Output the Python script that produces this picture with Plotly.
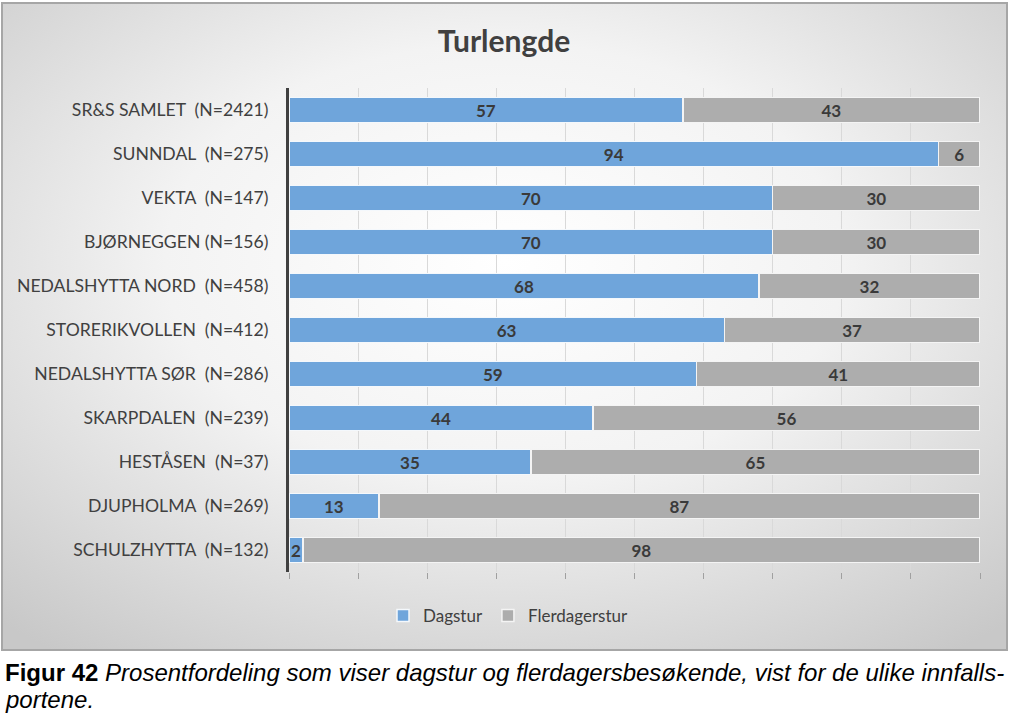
import base64
import plotly.graph_objects as go

categories = [
    "SR&S SAMLET  (N=2421)",
    "SUNNDAL  (N=275)",
    "VEKTA  (N=147)",
    "BJØRNEGGEN (N=156)",
    "NEDALSHYTTA NORD  (N=458)",
    "STORERIKVOLLEN  (N=412)",
    "NEDALSHYTTA SØR  (N=286)",
    "SKARPDALEN  (N=239)",
    "HESTÅSEN  (N=37)",
    "DJUPHOLMA  (N=269)",
    "SCHULZHYTTA  (N=132)",
]
dagstur = [57, 94, 70, 70, 68, 63, 59, 44, 35, 13, 2]
flerdagerstur = [43, 6, 30, 30, 32, 37, 41, 56, 65, 87, 98]
series_names = ["Dagstur", "Flerdagerstur"]

labels = [c.replace("  ", "\u00a0 ") for c in categories]

W, H = 1024, 716
L, R, T, B = 289, 980, 88, 572


def px_x(p):
    return (p - L) / (R - L)


def px_y(p):
    return (B - p) / (B - T)


svg = (
    '<svg xmlns="http://www.w3.org/2000/svg" width="1005" height="647" viewBox="0 0 1005 647" preserveAspectRatio="none">'
    '<defs><radialGradient id="g" cx="50%" cy="40%" r="75%">'
    '<stop offset="0" stop-color="#ffffff"/>'
    '<stop offset="0.45" stop-color="#f3f3f3"/>'
    '<stop offset="1" stop-color="#c8c8c8"/>'
    '</radialGradient></defs>'
    '<rect width="1005" height="647" fill="url(#g)"/></svg>'
)
src = "data:image/svg+xml;base64," + base64.b64encode(svg.encode()).decode()

label_font = dict(family="Lato", size=17, color="#3a3a3a", weight="bold")

fig = go.Figure()
fig.add_trace(go.Bar(
    y=labels, x=dagstur, name=series_names[0], orientation="h",
    marker=dict(color="#6FA5DB", line=dict(color="#f4f8fc", width=1.5)),
    text=dagstur, textposition="inside", insidetextanchor="middle",
    textangle=0, textfont=label_font,
))
fig.add_trace(go.Bar(
    y=labels, x=flerdagerstur, name=series_names[1], orientation="h",
    marker=dict(color="#ADADAD", line=dict(color="#f4f4f4", width=1.5)),
    text=flerdagerstur, textposition="inside", insidetextanchor="middle",
    textangle=0, textfont=label_font,
))

fig.update_layout(
    width=W, height=H,
    barmode="stack", bargap=0.44,
    paper_bgcolor="white", plot_bgcolor="rgba(0,0,0,0)",
    margin=dict(l=L, r=W - R, t=T, b=H - B),
    font=dict(family="Lato", color="#404040"),
    uniformtext=dict(minsize=17, mode="show"),
    title=dict(text="<b>Turlengde</b>", x=504 / W, xanchor="center",
               y=1 - 41 / H, yanchor="middle",
               font=dict(family="Lato", size=30, color="#404040")),
    xaxis=dict(range=[0, 100], dtick=10, showticklabels=False,
               showgrid=True, gridcolor="#d9d9d9", gridwidth=1,
               ticks="outside", ticklen=6, tickcolor="#a0a0a0",
               zeroline=False, showline=False, fixedrange=True),
    yaxis=dict(autorange="reversed", showline=True, linecolor="#404040",
               linewidth=3, ticks="", ticklabelstandoff=14,
               tickfont=dict(family="Lato", size=17.6, color="#404040")),
    legend=dict(orientation="h", xref="container", yref="container",
                x=508 / W, xanchor="center", y=1 - 616 / H, yanchor="middle",
                font=dict(family="Lato", size=17, color="#404040"),
                bgcolor="rgba(0,0,0,0)", traceorder="normal"),
    images=[dict(source=src, xref="paper", yref="paper",
                 x=px_x(2), y=px_y(3), sizex=(1007 - 2) / (R - L),
                 sizey=(650 - 3) / (B - T), sizing="stretch",
                 xanchor="left", yanchor="top", layer="below")],
    shapes=[dict(type="rect", xref="paper", yref="paper",
                 x0=px_x(2), x1=px_x(1007), y0=px_y(650), y1=px_y(3),
                 line=dict(color="#a6a6a6", width=2), layer="below")],
    annotations=[
        dict(text="<b>Figur 42</b> <i>Prosentfordeling som viser dagstur og flerdagersbesøkende, vist for de ulike innfalls-</i>",
             xref="paper", yref="paper", x=px_x(3), y=px_y(672),
             xanchor="left", yanchor="middle", align="left", showarrow=False,
             font=dict(family="Liberation Sans", size=24, color="#000000")),
        dict(text="<i>portene.</i>",
             xref="paper", yref="paper", x=px_x(3), y=px_y(699),
             xanchor="left", yanchor="middle", align="left", showarrow=False,
             font=dict(family="Liberation Sans", size=24, color="#000000")),
    ],
)

fig.write_html("out.html", config={"displayModeBar": False},
               post_script="document.body.style.margin='0px';document.body.style.overflow='hidden';")
